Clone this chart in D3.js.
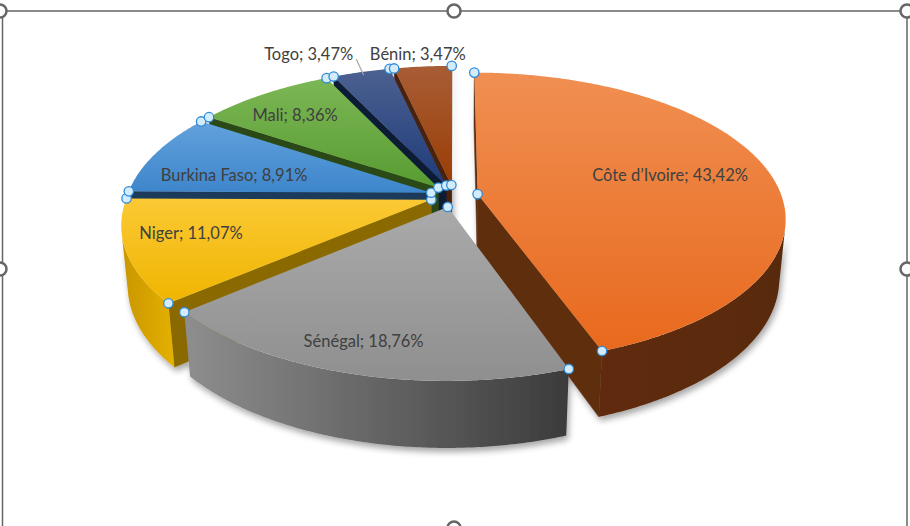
<!DOCTYPE html>
<html>
<head>
<meta charset="utf-8">
<title>Pie 3D</title>
<script src="https://d3js.org/d3.v7.min.js"></script>
<style>
  body { margin: 0; background: #fff; }
  svg text { font-family: Lato, "Open Sans", sans-serif; font-size: 16.5px; fill: #404040; }
</style>
</head>
<body>
<svg id="chart" width="910" height="526"></svg>
<script>
// Data
var countries = ["Côte d’Ivoire", "Sénégal", "Niger", "Burkina Faso", "Mali", "Togo", "Bénin"];
var shares = [43.42, 18.76, 11.07, 8.91, 8.36, 3.47, 3.47];

// Colours: top face (light, dark), outer wall (left, right), cut side
var topLight = ["#f08f52", "#aaaaaa", "#fbc934", "#62a2dc", "#7cb755", "#4c6190", "#a85d36"];
var topDark  = ["#e8691d", "#8f8f8f", "#efb500", "#3d85cb", "#589c31", "#1e3b7a", "#9a3d04"];
var wallLeft  = ["#5f2c0c", "#8e8e8e", "#c99600", "#3a6fa3", "#4d7e2e", "#1a2e5a", "#6e2e06"];
var wallRight = ["#592a0b", "#3b3b3b", "#e4b000", "#2c5a88", "#3f6a25", "#15254a", "#5e2805"];
var sideColors = ["#5e2d0e", "#6a6a6a", "#8a6b00", "#1f3a5a", "#2b4a18", "#101c36", "#4a220e"];

// Label layout (fraction of radius, turn from mid angle in degrees)
var labelFrac = [0.665, 0.834, 0.788, 0.678, 0.775, 1.246, 1.126];
var labelTurn = [-2.2, 1.3, 3.4, -6.1, -1.5, -6.7, -0.4];

// Geometry of the 3D view
var cx = 454, cy = 196, R = 304, depth = 68, explode = 24;
var tilt = 27.8 * Math.PI / 180, focal = 1656;
var sinT = Math.sin(tilt), cosT = Math.cos(tilt);
var camY = -focal * cosT;

var rScale = d3.scaleLinear().domain([0, 1]).range([0, R]);
var fr = d3.formatLocale({ decimal: ",", thousands: "\u00a0", grouping: [3], currency: ["", ""] }).format(".2f");

function project(wx, wy, z) {
  var yv = wy * sinT + z * cosT;
  var d = wy * cosT - z * sinT;
  var k = focal / (focal + d);
  return [cx + wx * k, cy - yv * k, d];
}

var svg = d3.select("#chart");
var defs = svg.append("defs");

var f = defs.append("filter").attr("id", "shadow")
  .attr("x", "-20%").attr("y", "-20%").attr("width", "140%").attr("height", "140%");
f.append("feDropShadow").attr("dx", 2).attr("dy", 4).attr("stdDeviation", 3)
  .attr("flood-color", "#000").attr("flood-opacity", 0.35);

countries.forEach(function (c, i) {
  var g1 = defs.append("linearGradient").attr("id", "top" + i)
    .attr("x1", 0).attr("y1", 0).attr("x2", 0).attr("y2", 1);
  g1.append("stop").attr("offset", "0%").attr("stop-color", topLight[i]);
  g1.append("stop").attr("offset", "100%").attr("stop-color", topDark[i]);
  var g2 = defs.append("linearGradient").attr("id", "wall" + i)
    .attr("x1", 0).attr("y1", 0).attr("x2", 1).attr("y2", 0);
  g2.append("stop").attr("offset", "0%").attr("stop-color", wallLeft[i]);
  g2.append("stop").attr("offset", "100%").attr("stop-color", wallRight[i]);
});

var arcs = d3.pie().sort(null).value(function (d) { return d; })(shares);

var line = d3.line().curve(d3.curveLinearClosed);
var step = Math.PI / 360;

arcs.forEach(function (a) {
  var mid = (a.startAngle + a.endAngle) / 2;
  a.mid = mid;
  a.ox = explode * Math.sin(mid);
  a.oy = explode * Math.cos(mid);
  a.at = function (t, z, r) {
    if (r == null) r = R;
    return project(a.ox + r * Math.sin(t), a.oy + r * Math.cos(t), z);
  };
  a.samples = function () {
    var n = Math.max(2, Math.ceil((a.endAngle - a.startAngle) / step));
    return d3.range(n + 1).map(function (j) { return a.startAngle + (a.endAngle - a.startAngle) * j / n; });
  };
});

function faces(nx, ny, px, py) {
  return nx * (-px) + ny * (camY - py) > 0;
}

function meanDepth(pts) {
  return d3.mean(pts, function (p) { return p[2]; });
}

// Walls
var walls = [];
arcs.forEach(function (a, i) {
  var a0 = a.startAngle, a1 = a.endAngle;
  // cut sides
  [[a0, -Math.cos(a0), Math.sin(a0)], [a1, Math.cos(a1), -Math.sin(a1)]].forEach(function (s) {
    var t = s[0];
    var px = a.ox + R * 0.5 * Math.sin(t), py = a.oy + R * 0.5 * Math.cos(t);
    if (!faces(s[1], s[2], px, py)) return;
    var pts = [a.at(t, 0, 0), a.at(t, 0), a.at(t, -depth), a.at(t, -depth, 0)];
    walls.push({ pts: pts, depth: meanDepth(pts), fill: sideColors[i] });
  });
  // outer wall, visible runs
  var run = [];
  var flush = function () {
    if (run.length > 1) {
      var pts = run.map(function (t) { return a.at(t, 0); })
        .concat(run.slice().reverse().map(function (t) { return a.at(t, -depth); }));
      walls.push({ pts: pts, depth: meanDepth(pts), fill: "url(#wall" + i + ")" });
    }
    run = [];
  };
  a.samples().forEach(function (t) {
    var px = a.ox + R * Math.sin(t), py = a.oy + R * Math.cos(t);
    if (faces(Math.sin(t), Math.cos(t), px, py)) run.push(t); else flush();
  });
  flush();
});
walls.sort(function (p, q) { return q.depth - p.depth; });

var pie = svg.append("g");
pie.append("g").attr("filter", "url(#shadow)")
  .selectAll("path").data(walls).enter().append("path")
  .attr("d", function (w) { return line(w.pts.map(function (p) { return [p[0], p[1]]; })); })
  .attr("fill", function (w) { return w.fill; })
  .attr("stroke", function (w) { return w.fill.indexOf("url") === 0 ? "none" : w.fill; })
  .attr("stroke-width", 0.5);

// Top faces
pie.append("g").selectAll("path").data(arcs).enter().append("path")
  .attr("d", function (a) {
    var pts = [a.at(a.mid, 0, 0)].concat(a.samples().map(function (t) { return a.at(t, 0); }));
    return line(pts.map(function (p) { return [p[0], p[1]]; }));
  })
  .attr("fill", function (a, i) { return "url(#top" + i + ")"; });

// Labels
var labels = pie.append("g").selectAll("text").data(arcs).enter().append("text")
  .attr("text-anchor", "middle")
  .attr("dominant-baseline", "central")
  .attr("x", function (a, i) { return a.at(a.mid + labelTurn[i] * Math.PI / 180, 0, rScale(labelFrac[i]))[0]; })
  .attr("y", function (a, i) { return a.at(a.mid + labelTurn[i] * Math.PI / 180, 0, rScale(labelFrac[i]))[1]; })
  .text(function (a, i) { return countries[i] + "; " + fr(shares[i]) + "%"; });

// Leader line for Togo
var togo = arcs[5];
var tl = labels.filter(function (a, i) { return i === 5; });
var tx = +tl.attr("x") + tl.node().getComputedTextLength() / 2 + 3;
var ty = +tl.attr("y") + 5;
var rimPt = togo.at(togo.mid, 0, rScale(0.97));
pie.append("line")
  .attr("x1", tx).attr("y1", ty).attr("x2", rimPt[0]).attr("y2", rimPt[1])
  .attr("stroke", "#a6a6a6").attr("stroke-width", 1.2);

// Selection handles on the points
var handles = [];
arcs.forEach(function (a) {
  handles.push(a.at(a.startAngle, 0), a.at(a.mid, 0, 0), a.at(a.endAngle, 0));
});
pie.append("g").selectAll("circle").data(handles).enter().append("circle")
  .attr("cx", function (p) { return p[0]; })
  .attr("cy", function (p) { return p[1]; })
  .attr("r", 4.7)
  .attr("fill", "#d4ebfb").attr("stroke", "#2f8ad6").attr("stroke-width", 1.3);

// Chart area frame with handles
var frame = svg.append("g").attr("stroke", "#666").attr("fill", "none").attr("stroke-width", 1.5);
frame.append("path").attr("d", "M0,11H907V526M2.5,11V526");
var knobs = [[0, 11], [454, 11], [907, 11], [0, 269], [907, 269], [454, 528]];
frame.selectAll("circle").data(knobs).enter().append("circle")
  .attr("cx", function (k) { return k[0]; })
  .attr("cy", function (k) { return k[1]; })
  .attr("r", 6.5).attr("fill", "#fff").attr("stroke-width", 2.5);
</script>
</body>
</html>
